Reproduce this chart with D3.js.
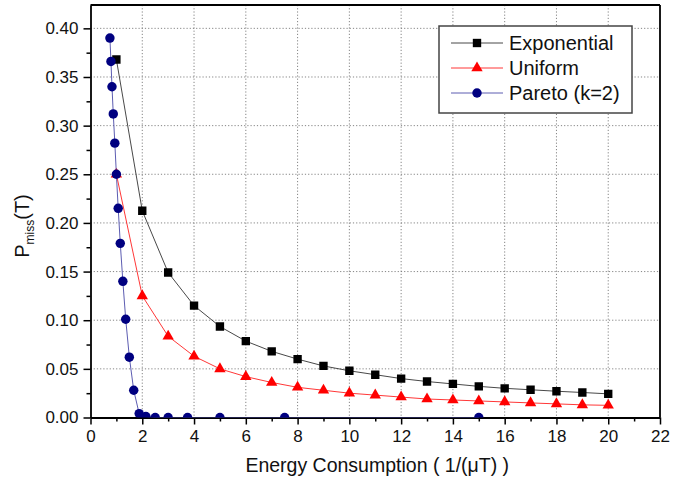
<!DOCTYPE html>
<html>
<head>
<meta charset="utf-8">
<script src="https://cdn.jsdelivr.net/npm/d3@7"></script>
<style>
  body { margin: 0; background: #fff; }
  svg { display: block; font-family: "Liberation Sans", Arial, sans-serif; }
</style>
</head>
<body>
<div id="chart"></div>
<script>
// data
const energy = [1, 2, 3, 4, 5, 6, 7, 8, 9, 10, 11, 12, 13, 14, 15, 16, 17, 18, 19, 20];
const expMiss = [0.368, 0.2125, 0.149, 0.115, 0.0935, 0.0785, 0.068, 0.060, 0.053, 0.048,
                 0.044, 0.040, 0.037, 0.0345, 0.032, 0.030, 0.0285, 0.027, 0.0257, 0.0243];
const uniMiss = [0.25, 0.125, 0.0835, 0.063, 0.050, 0.042, 0.036, 0.031, 0.028, 0.025,
                 0.023, 0.021, 0.019, 0.018, 0.017, 0.016, 0.015, 0.014, 0.013, 0.0125];
const paretoEnergy = [0.75, 0.79, 0.83, 0.88, 0.94, 1.0, 1.07, 1.15, 1.25, 1.36,
                      1.5, 1.67, 1.88, 2.14, 2.5, 3.0, 3.75, 5.0, 7.5, 15];
const paretoMiss = [0.390, 0.366, 0.340, 0.312, 0.282, 0.250, 0.215, 0.179, 0.140, 0.101,
                    0.062, 0.028, 0.004, 0.001, 0, 0, 0, 0, 0, 0];
const xTicks = [0, 2, 4, 6, 8, 10, 12, 14, 16, 18, 20, 22];
const yTicks = [0, 0.05, 0.10, 0.15, 0.20, 0.25, 0.30, 0.35, 0.40];
const seriesNames = ["Exponential", "Uniform", "Pareto (k=2)"];

const W = 683, H = 483;
const margin = { top: 5, right: 23, bottom: 65.5, left: 90.5 };
const width = W - margin.left - margin.right;
const height = H - margin.top - margin.bottom;

const svg = d3.select("#chart").append("svg")
    .attr("width", W)
    .attr("height", H);

const g = svg.append("g")
    .attr("transform", `translate(${margin.left},${margin.top})`);

const x = d3.scaleLinear().domain([0, 22]).range([0, width]);
const y = d3.scaleLinear().domain([0, 0.424]).range([height, 0]);

// dotted grid
g.append("g")
    .selectAll("line")
    .data(xTicks.filter(d => d > 0 && d < 22))
    .enter().append("line")
    .attr("x1", d => x(d)).attr("x2", d => x(d))
    .attr("y1", 0).attr("y2", height)
    .attr("stroke", "#777").attr("stroke-width", 0.9)
    .attr("stroke-dasharray", "1.2,2");

g.append("g")
    .selectAll("line")
    .data(yTicks.filter(d => d > 0))
    .enter().append("line")
    .attr("x1", 0).attr("x2", width)
    .attr("y1", d => y(d)).attr("y2", d => y(d))
    .attr("stroke", "#777").attr("stroke-width", 0.9)
    .attr("stroke-dasharray", "1.2,2");

// minor ticks
const xMinor = d3.range(1, 22, 2);
const yMinor = d3.range(0.025, 0.42, 0.05);

g.append("g")
    .attr("transform", `translate(0,${height})`)
    .call(d3.axisBottom(x).tickValues(xMinor).tickSize(4).tickFormat(""))
    .call(a => a.select(".domain").remove())
    .selectAll("line").attr("stroke-width", 1.5);

g.append("g")
    .call(d3.axisLeft(y).tickValues(yMinor).tickSize(4).tickFormat(""))
    .call(a => a.select(".domain").remove())
    .selectAll("line").attr("stroke-width", 1.5);

// major axes
const xAxis = g.append("g")
    .attr("transform", `translate(0,${height})`)
    .call(d3.axisBottom(x).tickValues(xTicks).tickSize(7).tickPadding(5).tickSizeOuter(0));

const yAxis = g.append("g")
    .call(d3.axisLeft(y).tickValues(yTicks).tickSize(7).tickPadding(5).tickSizeOuter(0)
        .tickFormat(d3.format(".2f")));

[xAxis, yAxis].forEach(a => {
    a.selectAll("text").attr("font-size", 17).attr("fill", "#111")
        .attr("font-family", "Liberation Sans, Arial, sans-serif");
    a.selectAll("line").attr("stroke-width", 1.5);
    a.select(".domain").attr("stroke-width", 1.8);
});

// frame top/right
g.append("line").attr("x1", 0).attr("x2", width).attr("y1", 0).attr("y2", 0)
    .attr("stroke", "#000").attr("stroke-width", 1.8);
g.append("line").attr("x1", width).attr("x2", width).attr("y1", 0).attr("y2", height)
    .attr("stroke", "#000").attr("stroke-width", 1.8);

// series
svg.append("defs").append("clipPath").attr("id", "plot")
    .append("rect").attr("width", width).attr("height", height);

const plot = g.append("g").attr("clip-path", "url(#plot)");

const series = [
    { name: seriesNames[0], xs: energy, ys: expMiss, line: "#333", fill: "#000", shape: "square" },
    { name: seriesNames[1], xs: energy, ys: uniMiss, line: "#ff2020", fill: "#ff0000", shape: "triangle" },
    { name: seriesNames[2], xs: paretoEnergy, ys: paretoMiss, line: "#4a4aa8", fill: "#000080", shape: "circle" }
];

const symbolOf = {
    square: d3.symbol().type(d3.symbolSquare).size(70),
    triangle: d3.symbol().type(d3.symbolTriangle).size(56),
    circle: d3.symbol().type(d3.symbolCircle).size(70)
};

const line = d3.line().x(d => x(d[0])).y(d => y(d[1]));

series.forEach(s => {
    const pts = s.xs.map((v, i) => [v, s.ys[i]]);
    plot.append("path")
        .datum(pts)
        .attr("d", line)
        .attr("fill", "none")
        .attr("stroke", s.line)
        .attr("stroke-width", 0.9);
    plot.append("g")
        .selectAll("path")
        .data(pts)
        .enter().append("path")
        .attr("transform", d => `translate(${x(d[0])},${y(d[1])})`)
        .attr("d", symbolOf[s.shape])
        .attr("fill", s.fill);
});

// axis titles
svg.append("text")
    .attr("x", margin.left + width / 2 + 2)
    .attr("y", 472)
    .attr("text-anchor", "middle")
    .attr("font-size", 19.5)
    .attr("fill", "#111")
    .text("Energy Consumption ( 1/(\u03bcT) )");

const yTitle = svg.append("text")
    .attr("transform", "translate(29,226) rotate(-90)")
    .attr("text-anchor", "middle")
    .attr("font-size", 20)
    .attr("fill", "#111");
yTitle.append("tspan").text("P");
yTitle.append("tspan").attr("font-size", 12).attr("dy", 5).text("miss");
yTitle.append("tspan").attr("dy", -5).text("(T)");

// legend
const legend = svg.append("g").attr("transform", "translate(439,26)");
legend.append("rect")
    .attr("width", 193).attr("height", 87)
    .attr("fill", "#fff").attr("stroke", "#444").attr("stroke-width", 1.5);

series.forEach((s, i) => {
    const row = legend.append("g").attr("transform", `translate(0,${17 + i * 25})`);
    row.append("line").attr("x1", 12).attr("x2", 64).attr("y1", 0).attr("y2", 0)
        .attr("stroke", s.line).attr("stroke-width", 0.9);
    row.append("path").attr("transform", "translate(38,0)")
        .attr("d", symbolOf[s.shape]).attr("fill", s.fill);
    row.append("text").attr("x", 70).attr("y", 7)
        .attr("font-size", 20).attr("fill", "#111").text(s.name);
});
</script>
</body>
</html>
